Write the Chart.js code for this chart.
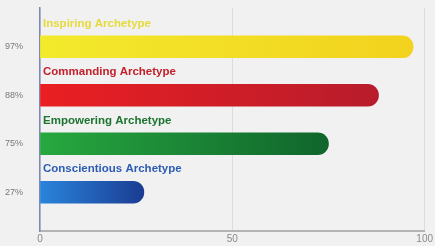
<!DOCTYPE html>
<html>
<head>
<meta charset="utf-8">
<script src="https://cdn.jsdelivr.net/npm/chart.js@4/dist/chart.umd.min.js"></script>
<style>
  html, body { margin: 0; padding: 0; background: #f1f1f1; }
  #wrap { width: 435px; height: 246px; }
</style>
</head>
<body>
<div id="wrap"><canvas id="chart"></canvas></div>
<script>
// Chart data
const archetypes = ['Inspiring Archetype', 'Commanding Archetype', 'Empowering Archetype', 'Conscientious Archetype'];
const scores = [97, 88, 75, 27];
const tickLabels = ['97%', '88%', '75%', '27%'];
const xTicks = [0, 50, 100];

// Gradient stops and label colours per bar
const gradStart = ['#f3ea2c', '#ea1f22', '#27a83f', '#2a84dc'];
const gradEnd = ['#f2d21e', '#b81c2c', '#10652c', '#1a3c92'];
const nameColors = ['#e6da3c', '#c4202c', '#1c7430', '#2c5cb4'];

function barGradient(context) {
  const chart = context.chart;
  const area = chart.chartArea;
  const i = context.dataIndex;
  if (!area || i === undefined) return gradStart[i || 0];
  const xScale = chart.scales.x;
  const x0 = xScale.getPixelForValue(0);
  const x1 = xScale.getPixelForValue(scores[i]);
  const g = chart.ctx.createLinearGradient(x0, 0, x1, 0);
  g.addColorStop(0, gradStart[i]);
  g.addColorStop(1, gradEnd[i]);
  return g;
}

// Paint page background on the canvas
const bgPlugin = {
  id: 'bg',
  beforeDraw(chart) {
    const ctx = chart.ctx;
    ctx.save();
    ctx.fillStyle = '#f1f1f1';
    ctx.fillRect(0, 0, chart.width, chart.height);
    ctx.restore();
  }
};

// Archetype names written above each bar
const namePlugin = {
  id: 'names',
  afterDatasetsDraw(chart) {
    const ctx = chart.ctx;
    const meta = chart.getDatasetMeta(0);
    ctx.save();
    ctx.font = 'bold 11.5px "Liberation Sans", Arial, sans-serif';
    ctx.textAlign = 'left';
    ctx.textBaseline = 'middle';
    meta.data.forEach((bar, i) => {
      ctx.fillStyle = nameColors[i];
      ctx.fillText(archetypes[i], chart.chartArea.left + 3, bar.y - 23);
    });
    ctx.restore();
  }
};

new Chart(document.getElementById('chart'), {
  type: 'bar',
  data: {
    datasets: [{
      data: scores.map((v, i) => ({ x: v, y: i })),
      backgroundColor: barGradient,
      borderRadius: 11,
      borderSkipped: 'start',
      barThickness: 22
    }]
  },
  options: {
    indexAxis: 'y',
    responsive: true,
    maintainAspectRatio: false,
    animation: false,
    layout: { padding: { top: 8, right: 10, left: 0, bottom: 0 } },
    plugins: {
      legend: { display: false },
      tooltip: { enabled: false }
    },
    scales: {
      x: {
        type: 'linear',
        min: 0,
        max: 100,
        afterBuildTicks: axis => { axis.ticks = xTicks.map(v => ({ value: v })); },
        grid: {
          color: '#dcdcdc',
          drawTicks: false
        },
        border: { color: '#b4b4b4', width: 2 },
        ticks: {
          color: '#8a8a8a',
          padding: 2,
          font: { family: '"Liberation Sans", Arial, sans-serif', size: 10 }
        },
        afterFit: axis => { axis.height = 15; }
      },
      y: {
        type: 'linear',
        reverse: true,
        offset: false,
        min: -0.8,
        max: 3.8,
        afterBuildTicks: axis => { axis.ticks = tickLabels.map((t, i) => ({ value: i })); },
        grid: { display: false, offset: false },
        border: { color: '#7d88b4', width: 1.5 },
        ticks: {
          color: '#777777',
          padding: 9,
          font: { family: '"Liberation Sans", Arial, sans-serif', size: 9 },
          callback: v => tickLabels[v]
        },
        afterFit: axis => {
          axis.width = 40;
          axis.paddingTop = 0;
          axis.paddingBottom = 0;
        }
      }
    }
  },
  plugins: [bgPlugin, namePlugin]
});
</script>
</body>
</html>
